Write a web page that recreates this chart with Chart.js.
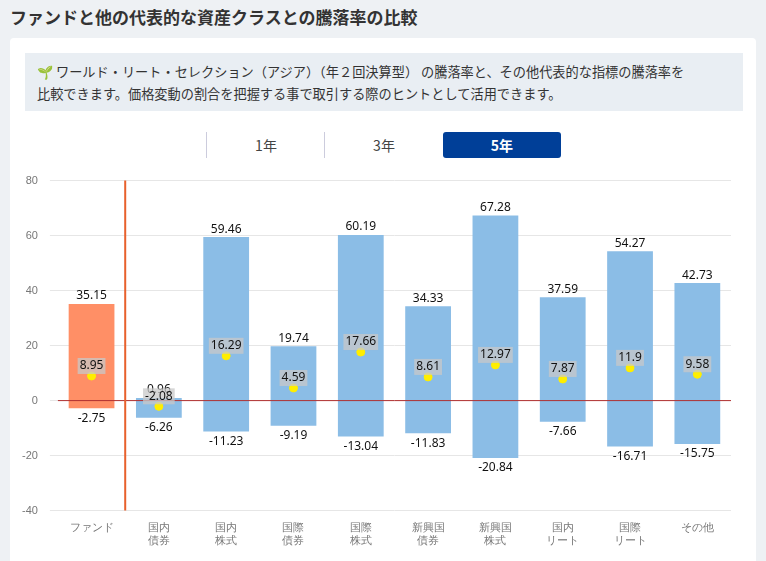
<!DOCTYPE html>
<html><head><meta charset="utf-8">
<script src="https://cdn.jsdelivr.net/npm/chart.js@4"></script>
<style>
body{margin:0;background:#eef1f4;font-family:"Noto Sans CJK JP","Noto Sans",sans-serif;width:766px;height:561px;overflow:hidden;position:relative}
h1{position:absolute;left:10px;top:4px;margin:0;font-size:17px;font-weight:bold;color:#333}
.card{position:absolute;left:10px;top:38px;width:746px;height:540px;background:#fff;border-radius:4px}
.info{position:absolute;left:25px;top:53px;width:662px;height:42px;padding:8px 44px 8px 12px;background:#e9eef3;font-size:13.2px;line-height:22px;color:#333}
.tab{position:absolute;top:132px;height:26px;width:118px;text-align:center;line-height:26px;font-size:14px;color:#444;border-left:1px solid #ccd}
.act{background:#003f98;color:#fff;font-weight:bold;border:none;border-radius:3px}
#wrap{position:absolute;left:10px;top:162px;width:738px;height:389px}
</style></head><body>
<h1>ファンドと他の代表的な資産クラスとの騰落率の比較</h1>
<div class="card"></div>
<div class="info"><span style="color:#3a9a3a">🌱</span> ワールド・リート・セレクション（アジア）（年２回決算型） の騰落率と、その他代表的な指標の騰落率を<br>比較できます。価格変動の割合を把握する事で取引する際のヒントとして活用できます。</div>
<div class="tab" style="left:206px">1年</div>
<div class="tab" style="left:324px">3年</div>
<div class="tab act" style="left:443px">5年</div>
<div id="wrap"><canvas id="c" width="738" height="389"></canvas></div>
<script>
const categories = [['ファンド'],['国内','債券'],['国内','株式'],['国際','債券'],['国際','株式'],['新興国','債券'],['新興国','株式'],['国内','リート'],['国際','リート'],['その他']];
const maxValues = [35.15,0.96,59.46,19.74,60.19,34.33,67.28,37.59,54.27,42.73];
const minValues = [-2.75,-6.26,-11.23,-9.19,-13.04,-11.83,-20.84,-7.66,-16.71,-15.75];
const avgValues = [8.95,-2.08,16.29,4.59,17.66,8.61,12.97,7.87,11.9,9.58];
const yTicks = [80,60,40,20,0,-20,-40];

const labelPlugin = {
  id: 'labels',
  afterDatasetsDraw(chart) {
    const ctx = chart.ctx, x = chart.scales.x, y = chart.scales.y, a = chart.chartArea;
    ctx.save();
    ctx.strokeStyle = '#b03030'; ctx.lineWidth = 1;
    ctx.beginPath(); ctx.moveTo(a.left, y.getPixelForValue(0)); ctx.lineTo(a.right, y.getPixelForValue(0)); ctx.stroke();
    const dx = (x.getPixelForValue(0) + x.getPixelForValue(1)) / 2;
    ctx.strokeStyle = '#e8602c'; ctx.lineWidth = 2;
    ctx.beginPath(); ctx.moveTo(dx, a.top); ctx.lineTo(dx, a.bottom); ctx.stroke();
    ctx.font = '12px "Noto Sans", sans-serif'; ctx.textAlign = 'center'; ctx.fillStyle = '#111';
    categories.forEach((c, i) => {
      const px = x.getPixelForValue(i);
      ctx.textBaseline = 'bottom';
      ctx.fillText(maxValues[i], px, y.getPixelForValue(maxValues[i]) - 2);
      ctx.textBaseline = 'top';
      ctx.fillText(minValues[i], px, y.getPixelForValue(minValues[i]) + 4);
      const ay = y.getPixelForValue(avgValues[i]) - 10;
      const w = ctx.measureText(avgValues[i]).width + 4;
      ctx.fillStyle = 'rgba(200,200,200,0.75)';
      ctx.fillRect(px - w / 2, ay - 8, w, 16);
      ctx.fillStyle = '#111'; ctx.textBaseline = 'middle';
      ctx.fillText(avgValues[i], px, ay);
    });
    ctx.restore();
  }
};

new Chart(document.getElementById('c'), {
  data: {
    labels: categories,
    datasets: [
      { type: 'scatter', data: avgValues.map((v, i) => ({x: i, y: v})), backgroundColor: '#ffee00', borderColor: '#ffee00', pointRadius: 4, order: 0 },
      { type: 'bar', data: minValues.map((v, i) => [v, maxValues[i]]),
        backgroundColor: categories.map((c, i) => i === 0 ? '#ff8f66' : '#8bbde6'),
        barPercentage: 0.68, categoryPercentage: 1, order: 1 }
    ]
  },
  options: {
    responsive: false, animation: false,
    layout: { padding: { top: 0, right: 17 } },
    plugins: { legend: { display: false }, tooltip: { enabled: false } },
    scales: {
      x: { type: 'category', offset: true, grid: { display: false }, border: { display: false },
           ticks: { color: '#777', font: { size: 11 }, maxRotation: 0, autoSkip: false } },
      y: { min: -40, max: 80, afterBuildTicks: s => { s.ticks = yTicks.map(v => ({value: v})); },
           border: { display: false }, grid: { color: '#e6e6e6', borderDash: [3, 3] },
           ticks: { color: '#777', font: { size: 11 }, padding: 12 } }
    }
  },
  plugins: [labelPlugin]
});
</script>
</body></html>
